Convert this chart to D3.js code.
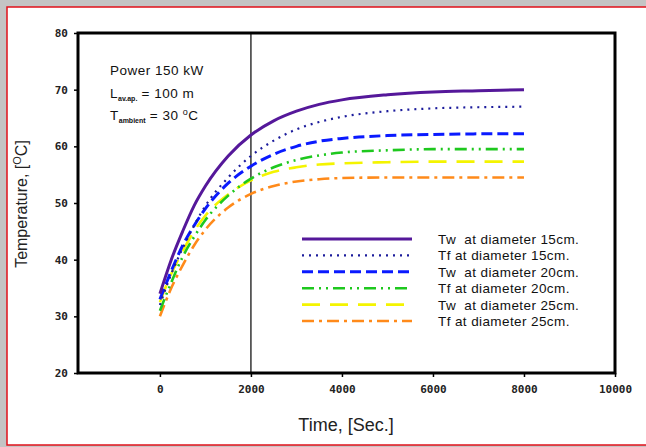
<!DOCTYPE html>
<html><head><meta charset="utf-8">
<script src="https://cdn.jsdelivr.net/npm/d3@7"></script>
<style>body{margin:0;background:#fff;}svg{display:block;font-family:"Liberation Sans",Arial,sans-serif;}</style>
</head><body><svg id="c" width="646" height="447"></svg>
<script>
const times = [0,250,500,750,1000,1500,2000,2500,3000,3500,4000,5000,6000,7000,8000];
const twD15 = [34,40,45,49.5,53,58.3,62,64.5,66.2,67.4,68.2,69.1,69.6,69.8,70];
const tfD15 = [32,37.5,42,46,49.5,54.5,58.3,61,63,64.3,65.2,66.2,66.7,66.9,67];
const twD20 = [33,38,42.5,46,49,53.5,56.5,58.6,60,60.9,61.4,61.9,62.1,62.2,62.2];
const tfD20 = [31,36,40.5,44,47,51.3,54.3,56.3,57.6,58.4,58.9,59.3,59.5,59.5,59.5];
const twD25 = [32.5,37.5,41.5,45,47.8,51.5,54,55.5,56.3,56.8,57,57.2,57.3,57.3,57.3];
const tfD25 = [30,35,39,42.5,45.3,49.2,51.6,53,53.8,54.2,54.4,54.5,54.5,54.5,54.5];
const seriesNames = ["Tw  at diameter 15cm.","Tf at diameter 15cm.","Tw  at diameter 20cm.","Tf at diameter 20cm.","Tw  at diameter 25cm.","Tf at diameter 25cm."];
const xTicks = [0,2000,4000,6000,8000,10000];
const yTicks = [20,30,40,50,60,70,80];

const series = [
  {name:seriesNames[0], vals:twD15, color:"#55189a", w:3, dash:null},
  {name:seriesNames[1], vals:tfD15, color:"#1c1c9c", w:2.2, dash:"2,5"},
  {name:seriesNames[2], vals:twD20, color:"#0a1aff", w:3, dash:"11,5"},
  {name:seriesNames[3], vals:tfD20, color:"#1ec81e", w:2.6, dash:"12,5,2,5,2,5"},
  {name:seriesNames[4], vals:twD25, color:"#f4f400", w:2.6, dash:"18,10"},
  {name:seriesNames[5], vals:tfD25, color:"#ff8a1a", w:2.6, dash:"12,5,3,5"}
];

const svg = d3.select("#c");
svg.append("rect").attr("x",0).attr("y",0).attr("width",646).attr("height",447).attr("fill","#c4c4c4");
svg.append("rect").attr("x",7).attr("y",7).attr("width",650).attr("height",438).attr("fill","#fff").attr("stroke","#e0101a").attr("stroke-width",1.5);

const L=78, R=615, T=33, B=373;
const x = d3.scaleLinear().domain([-1800,10000]).range([L,R]);
const y = d3.scaleLinear().domain([20,80]).range([B,T]);

svg.append("line").attr("x1",x(2000)).attr("x2",x(2000)).attr("y1",T).attr("y2",B).attr("stroke","#000").attr("stroke-width",1.2);

const line = d3.line().x((d,i)=>x(times[i])).y(d=>y(d)).curve(d3.curveMonotoneX);
series.slice().reverse().forEach(s=>{
  svg.append("path").attr("d",line(s.vals)).attr("fill","none").attr("stroke",s.color)
    .attr("stroke-width",s.w).attr("stroke-dasharray",s.dash);
});

const xa = svg.append("g").attr("transform",`translate(0,${B})`)
  .call(d3.axisBottom(x).tickValues(xTicks).tickSize(4).tickPadding(8).tickFormat(d3.format("d")));
const ya = svg.append("g").attr("transform",`translate(${L},0)`)
  .call(d3.axisLeft(y).tickValues(yTicks).tickSize(4).tickPadding(6));
[xa,ya].forEach(a=>{a.select(".domain").remove();a.selectAll("text").attr("font-weight","bold").attr("fill","#222").attr("font-family","'DejaVu Sans Mono','Liberation Mono',monospace").attr("font-size",11);a.selectAll("line").attr("stroke","#000").attr("stroke-width",1.5);});
svg.append("rect").attr("x",L).attr("y",T).attr("width",R-L).attr("height",B-T).attr("fill","none").attr("stroke","#000").attr("stroke-width",3);

const ann = svg.append("g").attr("font-size",13.5).attr("letter-spacing",0.5).attr("fill","#111");
ann.append("text").attr("x",110).attr("y",75).text("Power 150 kW");
const t2 = ann.append("text").attr("x",110).attr("y",98);
t2.append("tspan").text("L");
t2.append("tspan").attr("font-size",7).attr("dy",3).attr("font-weight","bold").attr("letter-spacing",0).text("av.ap.");
t2.append("tspan").attr("dy",-3).text(" = 100 m");
const t3 = ann.append("text").attr("x",110).attr("y",120);
t3.append("tspan").text("T");
t3.append("tspan").attr("font-size",7).attr("dy",3).attr("font-weight","bold").attr("letter-spacing",0).text("ambient");
t3.append("tspan").attr("dy",-3).text(" = 30 ");
t3.append("tspan").attr("font-size",9).attr("dy",-5).text("o");
t3.append("tspan").attr("dy",5).text("C");

const lg = svg.append("g");
series.forEach((s,i)=>{
  const yy = 239 + i*16.4;
  lg.append("line").attr("x1",302).attr("x2",412).attr("y1",yy).attr("y2",yy)
    .attr("stroke",s.color).attr("stroke-width",s.w).attr("stroke-dasharray",s.dash);
  lg.append("text").attr("x",438).attr("y",yy+5).attr("font-size",13.5).attr("letter-spacing",0.4).attr("fill","#111").attr("xml:space","preserve").text(s.name);
});

svg.append("text").attr("x",346).attr("y",431).attr("text-anchor","middle").attr("font-size",18).attr("fill","#222").text("Time, [Sec.]");
const yl = svg.append("text").attr("transform","translate(27,204) rotate(-90)").attr("text-anchor","middle").attr("font-size",16).attr("fill","#222");
yl.append("tspan").text("Temperature, [");
yl.append("tspan").attr("font-size",11).attr("dy",-6).text("O");
yl.append("tspan").attr("dy",6).text("C]");
</script></body></html>
